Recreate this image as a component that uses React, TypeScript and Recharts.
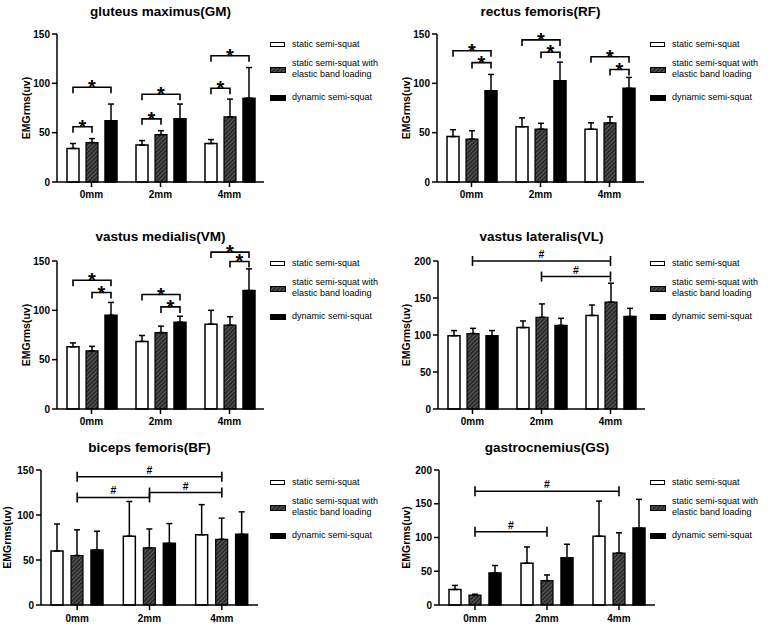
import React from "react";
import { BarChart, Bar, XAxis, YAxis, ErrorBar, ReferenceLine, Rectangle } from "recharts";

const FONT = '"Liberation Sans", Arial, Helvetica, sans-serif';

const categories = ["0mm", "2mm", "4mm"];
const legendLabels = ["static semi-squat", "static semi-squat with\nelastic band loading", "dynamic semi-squat"];
const yLabel = "EMGrms(uv)";

// gluteus maximus
const gmStatic = [34, 37.5, 39];
const gmStaticErr = [5, 4.5, 4];
const gmBand = [40, 48, 66];
const gmBandErr = [4, 4, 18];
const gmDynamic = [62, 64, 85];
const gmDynamicErr = [17, 15, 31];
// [category, from series, to series, height]
const gmStars = [[0, 0, 1, 56], [0, 0, 2, 96], [1, 0, 1, 64], [1, 0, 2, 89], [2, 0, 1, 95], [2, 0, 2, 128]];

// rectus femoris
const rfStatic = [46, 56, 53.5];
const rfStaticErr = [7, 9, 6.5];
const rfBand = [43.5, 53.5, 60];
const rfBandErr = [8.5, 6, 6];
const rfDynamic = [92.5, 102.5, 95];
const rfDynamicErr = [16.5, 19, 11];
const rfStars = [[0, 0, 2, 133], [0, 1, 2, 121], [1, 0, 2, 144], [1, 1, 2, 131.5], [2, 0, 2, 127], [2, 1, 2, 114]];

// vastus medialis
const vmStatic = [63, 68.5, 86];
const vmStaticErr = [4, 6, 14];
const vmBand = [59, 77.5, 85];
const vmBandErr = [4.5, 6.5, 8.5];
const vmDynamic = [95, 88, 120];
const vmDynamicErr = [13, 6, 22];
const vmStars = [[0, 0, 2, 130.5], [0, 1, 2, 118], [1, 0, 2, 116], [1, 1, 2, 103.5], [2, 0, 2, 159], [2, 1, 2, 149.5]];

// vastus lateralis
const vlStatic = [99, 110, 126.5];
const vlStaticErr = [7, 9, 14];
const vlBand = [102, 124, 144.5];
const vlBandErr = [7, 18, 25.5];
const vlDynamic = [99, 113, 125];
const vlDynamicErr = [7, 9.5, 11];
// [from category, to category, height]
const vlHashes = [[0, 2, 200], [1, 2, 179]];

// biceps femoris
const bfStatic = [60, 76.5, 78];
const bfStaticErr = [30, 38.5, 33.5];
const bfBand = [55, 63.5, 73];
const bfBandErr = [28.5, 21, 23.5];
const bfDynamic = [61, 68.5, 78.5];
const bfDynamicErr = [21, 22, 25];
const bfHashes = [[0, 2, 142.5], [0, 1, 119.5], [1, 2, 125]];

// gastrocnemius
const gsStatic = [23, 62, 102];
const gsStaticErr = [6, 24, 52];
const gsBand = [14.5, 36, 77];
const gsBandErr = [1.5, 8.5, 30];
const gsDynamic = [47.5, 70, 114];
const gsDynamicErr = [11, 20, 42.5];
const gsHashes = [[0, 2, 168.5], [0, 1, 108.5]];

const makeRows = (s: number[], se: number[], b: number[], be: number[], d: number[], de: number[]) =>
  categories.map((cat, i) => ({
    cat,
    stat: s[i],
    statErr: [0, se[i]],
    band: b[i],
    bandErr: [0, be[i]],
    dyn: d[i],
    dynErr: [0, de[i]],
  }));

const panels = [
  {
    id: "gm", title: "gluteus maximus(GM)", left: 0, top: 0, titleY: 11.5, legendY: 44,
    plotLeft: 57, plotRight: 264, plotTop: 34, plotBottom: 182, yMax: 150, yTicks: [0, 50, 100, 150],
    barSize: 12, barGap: 7, labelX: 26, tickMargin: 4,
    rows: makeRows(gmStatic, gmStaticErr, gmBand, gmBandErr, gmDynamic, gmDynamicErr), stars: gmStars, hashes: [],
  },
  {
    id: "rf", title: "rectus femoris(RF)", left: 380, top: 0, titleY: 11.5, legendY: 44,
    plotLeft: 57, plotRight: 264, plotTop: 34, plotBottom: 182, yMax: 150, yTicks: [0, 50, 100, 150],
    barSize: 12, barGap: 7, labelX: 26, tickMargin: 4,
    rows: makeRows(rfStatic, rfStaticErr, rfBand, rfBandErr, rfDynamic, rfDynamicErr), stars: rfStars, hashes: [],
  },
  {
    id: "vm", title: "vastus medialis(VM)", left: 0, top: 200, titleY: 37, legendY: 63,
    plotLeft: 57, plotRight: 264, plotTop: 61, plotBottom: 209, yMax: 150, yTicks: [0, 50, 100, 150],
    barSize: 12, barGap: 7, labelX: 26, tickMargin: 4,
    rows: makeRows(vmStatic, vmStaticErr, vmBand, vmBandErr, vmDynamic, vmDynamicErr), stars: vmStars, hashes: [],
  },
  {
    id: "vl", title: "vastus lateralis(VL)", left: 380, top: 200, titleY: 37, legendY: 63,
    plotLeft: 58, plotRight: 265, plotTop: 61, plotBottom: 209, yMax: 200, yTicks: [0, 50, 100, 150, 200],
    barSize: 12, barGap: 7, labelX: 26, tickMargin: 4,
    rows: makeRows(vlStatic, vlStaticErr, vlBand, vlBandErr, vlDynamic, vlDynamicErr), stars: [], hashes: vlHashes,
  },
  {
    id: "bf", title: "biceps femoris(BF)", left: 0, top: 420, titleY: 28, legendY: 62,
    plotLeft: 41, plotRight: 258, plotTop: 50, plotBottom: 185, yMax: 150, yTicks: [0, 50, 100, 150],
    barSize: 12, barGap: 8, labelX: 7, tickMargin: 5,
    rows: makeRows(bfStatic, bfStaticErr, bfBand, bfBandErr, bfDynamic, bfDynamicErr), stars: [], hashes: bfHashes,
  },
  {
    id: "gs", title: "gastrocnemius(GS)", left: 380, top: 420, titleY: 28, legendY: 62,
    plotLeft: 59, plotRight: 275, plotTop: 50, plotBottom: 185, yMax: 200, yTicks: [0, 50, 100, 150, 200],
    barSize: 12, barGap: 8, labelX: 26, tickMargin: 5,
    rows: makeRows(gsStatic, gsStaticErr, gsBand, gsBandErr, gsDynamic, gsDynamicErr), stars: [], hashes: gsHashes,
  },
];

const axisStroke = { stroke: "#000", strokeWidth: 1.5 };

function HatchIcon({ id }: { id: string }) {
  return (
    <svg width={16} height={6} style={{ display: "block" }}>
      <defs>
        <pattern id={id} patternUnits="userSpaceOnUse" width={3} height={3} patternTransform="rotate(45)">
          <rect width={3} height={3} fill="#2b2b2b" />
          <line x1={0} y1={0} x2={0} y2={3} stroke="#8c8c8c" strokeWidth={1} />
        </pattern>
      </defs>
      <rect x={0.5} y={0.5} width={15} height={5} fill={`url(#${id})`} stroke="#000" strokeWidth={1} />
    </svg>
  );
}

function LegendBlock({ left, top, id }: { left: number; top: number; id: string }) {
  const text = { position: "absolute" as const, left: 22, fontSize: 9, lineHeight: "11px", whiteSpace: "pre" as const };
  return (
    <div style={{ position: "absolute", left, top, width: 110, height: 70, fontFamily: FONT, color: "#000" }}>
      <div style={{ position: "absolute", left: 0, top: -2.5, width: 13, height: 3, border: "1.5px solid #000", background: "#fff" }} />
      <div style={{ ...text, top: -5.5 }}>{legendLabels[0]}</div>
      <div style={{ position: "absolute", left: 0, top: 22.5 }}>
        <HatchIcon id={`legend-hatch-${id}`} />
      </div>
      <div style={{ ...text, top: 13.5 }}>{legendLabels[1]}</div>
      <div style={{ position: "absolute", left: 0, top: 50.5, width: 16, height: 6, background: "#000" }} />
      <div style={{ ...text, top: 48 }}>{legendLabels[2]}</div>
    </div>
  );
}

function Panel({ cfg }: { cfg: (typeof panels)[number] }) {
  const { id, title, left, top, titleY, legendY, plotLeft, plotRight, plotTop, plotBottom, yMax, yTicks, barSize, barGap, labelX, tickMargin, rows, stars, hashes } = cfg;
  const width = plotRight + 4;
  const height = plotBottom + 30;
  const step = barSize + barGap;
  const cap = (yMax * 5) / (plotBottom - plotTop);

  const dynShape = (p: any) => {
    const { x, y, width: w, height: h, index, payload } = p;
    const base = y + h;
    const toPx = (u: number) => base - (u / payload.dyn) * h;
    const cx = x + w / 2;
    return (
      <g>
        <Rectangle x={x} y={y} width={w} height={h} fill="#000" stroke="#000" strokeWidth={1.5} />
        {stars
          .filter((s) => s[0] === index)
          .map(([, a, b, v], k) => {
            const x1 = cx - (2 - a) * step;
            const x2 = cx - (2 - b) * step;
            const yy = toPx(v);
            return (
              <g key={k}>
                <polyline points={`${x1},${yy + 6} ${x1},${yy} ${x2},${yy} ${x2},${yy + 6}`} fill="none" stroke="#000" strokeWidth={1.6} />
                <text x={(x1 + x2) / 2} y={yy + 7} textAnchor="middle" fontSize={20} fontWeight={700} fill="#000" fontFamily={FONT}>
                  *
                </text>
              </g>
            );
          })}
      </g>
    );
  };

  return (
    <div style={{ position: "absolute", left, top, width, height }}>
      <div
        style={{
          position: "absolute", left: plotLeft, width: plotRight - plotLeft, top: titleY - 9, height: 18,
          lineHeight: "18px", textAlign: "center", fontSize: 13.5, fontWeight: 700, fontFamily: FONT, color: "#000",
        }}
      >
        {title}
      </div>
      <BarChart
        width={width}
        height={height}
        data={rows}
        margin={{ top: plotTop, right: width - plotRight, bottom: 0, left: 0 }}
        barSize={barSize}
        barGap={barGap}
      >
        <defs>
          <pattern id={`hatch-${id}`} patternUnits="userSpaceOnUse" width={3} height={3} patternTransform="rotate(45)">
            <rect width={3} height={3} fill="#2b2b2b" />
            <line x1={0} y1={0} x2={0} y2={3} stroke="#8c8c8c" strokeWidth={1} />
          </pattern>
        </defs>
        <XAxis
          dataKey="cat"
          height={30}
          interval={0}
          tickSize={5}
          tickMargin={tickMargin}
          axisLine={axisStroke}
          tickLine={axisStroke}
          tick={{ fill: "#000", fontSize: 10, fontWeight: 700, fontFamily: FONT }}
        />
        <YAxis
          width={plotLeft}
          domain={[0, yMax]}
          ticks={yTicks}
          interval={0}
          tickSize={5}
          tickMargin={2}
          axisLine={axisStroke}
          tickLine={axisStroke}
          tick={{ fill: "#000", fontSize: 10, fontWeight: 700, fontFamily: FONT }}
          label={{
            value: yLabel, angle: -90, position: "insideLeft", offset: labelX,
            style: { textAnchor: "middle", fontSize: 10.5, fontWeight: 700, fill: "#000", fontFamily: FONT },
          }}
        />
        <Bar dataKey="stat" fill="#fff" stroke="#000" strokeWidth={1.5} isAnimationActive={false}>
          <ErrorBar dataKey="statErr" direction="y" width={3} stroke="#000" strokeWidth={1.5} />
        </Bar>
        <Bar dataKey="band" fill={`url(#hatch-${id})`} stroke="#000" strokeWidth={1.2} isAnimationActive={false}>
          <ErrorBar dataKey="bandErr" direction="y" width={3} stroke="#000" strokeWidth={1.5} />
        </Bar>
        <Bar dataKey="dyn" fill="#000" isAnimationActive={false} shape={dynShape}>
          <ErrorBar dataKey="dynErr" direction="y" width={3} stroke="#000" strokeWidth={1.5} />
        </Bar>
        {hashes.flatMap(([a, b, v], k) => [
          <ReferenceLine
            key={`h${k}`}
            segment={[{ x: categories[a], y: v }, { x: categories[b], y: v }]}
            stroke="#000"
            strokeWidth={1.6}
            ifOverflow="visible"
            label={{ value: "#", position: "top", offset: 3, fill: "#000", fontSize: 10.5, fontWeight: 700, fontFamily: FONT }}
          />,
          <ReferenceLine
            key={`l${k}`}
            segment={[{ x: categories[a], y: v - cap }, { x: categories[a], y: v + cap }]}
            stroke="#000"
            strokeWidth={1.6}
            ifOverflow="visible"
          />,
          <ReferenceLine
            key={`r${k}`}
            segment={[{ x: categories[b], y: v - cap }, { x: categories[b], y: v + cap }]}
            stroke="#000"
            strokeWidth={1.6}
            ifOverflow="visible"
          />,
        ])}
      </BarChart>
      <LegendBlock left={270} top={legendY} id={id} />
    </div>
  );
}

export default function App() {
  return (
    <div style={{ position: "absolute", left: 0, top: 0, width: 777, height: 627, background: "#fff", fontFamily: FONT }}>
      {panels.map((p) => (
        <Panel key={p.id} cfg={p} />
      ))}
    </div>
  );
}
